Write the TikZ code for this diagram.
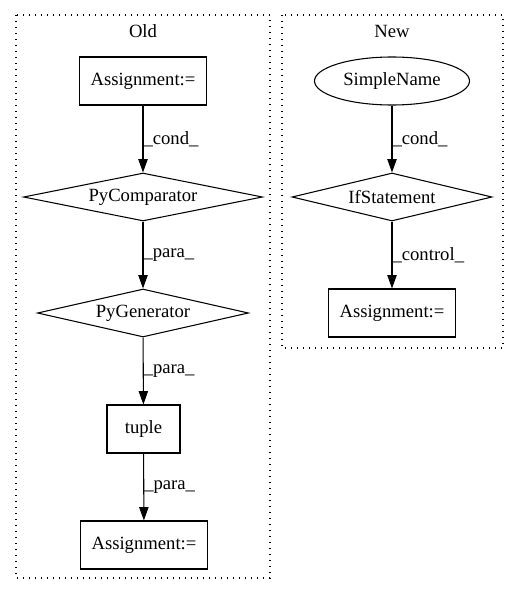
\documentclass[tikz,border=0pt]{standalone}
\usepackage{fontspec}
\setmainfont{Liberation Serif}
\usetikzlibrary{shapes.geometric,arrows.meta}
\begin{document}
\begin{tikzpicture}[x=0.75pt,y=-0.75pt,
  font=\fontsize{14}{16}\selectfont,
  box/.style={draw,rectangle,line width=0.8pt,inner sep=0pt,minimum height=36pt},
  dia/.style={draw,diamond,aspect=5,line width=0.8pt,inner sep=0pt,minimum height=36pt},
  oval/.style={draw,ellipse,line width=0.8pt,inner sep=0pt,minimum height=36pt},
  flow/.style={-{Triangle[length=10pt,width=7pt]},line width=0.8pt},
  lbl/.style={right,inner sep=0pt},
  clusterbox/.style={line width=0.8pt,dash pattern=on 1pt off 3.5pt}]
\useasboundingbox (0,0) rectangle (517,596);
% clusters
\draw[clusterbox] (16,15) rectangle (270,578);
\draw[clusterbox] (282,15) rectangle (503,348);
\node (oldTitle) at (143,31) {Old};
\node (newTitle) at (392,31) {New};
% Old
\node[box,minimum width=95.25pt] (assignOld) at (143,81) {Assignment:=};
\node[dia,minimum width=179.25pt] (cmp) at (143,197) {PyComparator};
\node[dia,minimum width=158.25pt] (gen) at (143,313) {PyGenerator};
\node[box,minimum width=54.75pt] (tup) at (143.5,429) {tuple};
\node[box,minimum width=95.25pt] (assignOut) at (144,545) {Assignment:=};
\draw[flow] (assignOld) -- node[lbl] {\_cond\_} (cmp);
\draw[flow] (cmp) -- node[lbl] {\_para\_} (gen);
\draw[flow] (gen) -- node[lbl] {\_para\_} (tup);
\draw[flow] (tup) -- node[lbl] {\_para\_} (assignOut);
% New
\node[oval,minimum width=116.25pt] (simple) at (392,81) {SimpleName};
\node[dia,minimum width=150pt] (ifst) at (392,197) {IfStatement};
\node[box,minimum width=95.25pt] (assignNew) at (392,313) {Assignment:=};
\draw[flow] (simple) -- node[lbl] {\_cond\_} (ifst);
\draw[flow] (ifst) -- node[lbl] {\_control\_} (assignNew);
\end{tikzpicture}
\end{document}
